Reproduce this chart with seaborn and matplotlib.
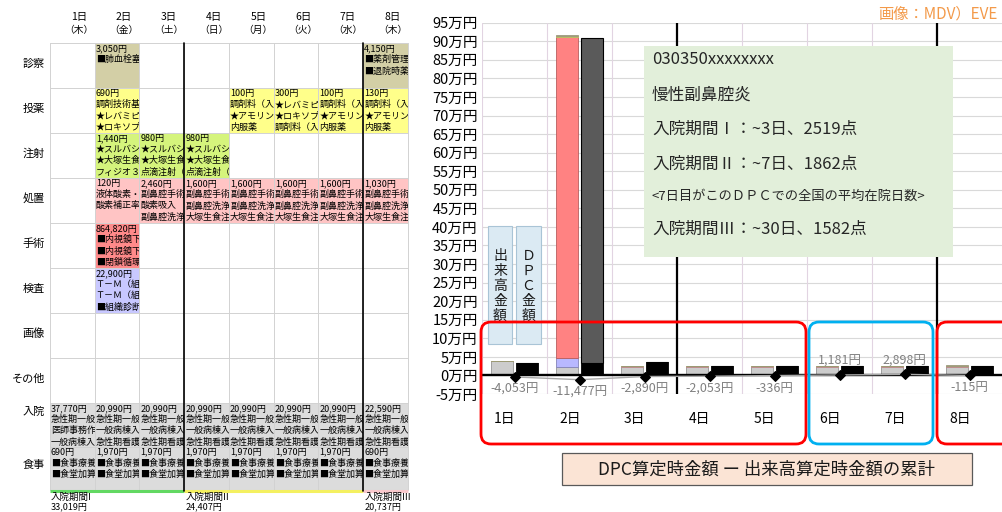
import numpy as np
import pandas as pd
import matplotlib
matplotlib.use("Agg")
import matplotlib.pyplot as plt
import matplotlib.colors as mcolors
from matplotlib.patches import Rectangle, FancyBboxPatch
from matplotlib.transforms import Bbox, TransformedBbox
import seaborn as sns

# ---------------------------------------------------------------- data
days = ["1日", "2日", "3日", "4日", "5日", "6日", "7日", "8日"]
weekdays = ["木", "金", "土", "日", "月", "火", "水", "木"]
row_names = ["診察", "投薬", "注射", "処置", "手術", "検査", "画像", "その他", "入院", "食事"]

# 出来高 amounts (円) per category and day
shinsatsu = [0, 3050, 0, 0, 0, 0, 0, 4150]
toyaku = [0, 690, 0, 0, 100, 300, 100, 130]
chusha = [0, 1440, 980, 980, 0, 0, 0, 0]
shochi = [0, 120, 2460, 1600, 1600, 1600, 1600, 1030]
shujutsu = [0, 864820, 0, 0, 0, 0, 0, 0]
kensa = [0, 22900, 0, 0, 0, 0, 0, 0]
gazo = [0, 0, 0, 0, 0, 0, 0, 0]
sonota = [0, 0, 0, 0, 0, 0, 0, 0]
nyuin = [37770, 20990, 20990, 20990, 20990, 20990, 20990, 22590]
shokuji = [690, 1970, 1970, 1970, 1970, 1970, 1970, 690]

# DPC amounts (円): bundled part and separately billed part
dpc_hokatsu = [34407, 34407, 34987, 26377, 26377, 26377, 26377, 25577]
dpc_dekidaka = [0, 874149, 0, 0, 0, 0, 0, 0]

# cumulative (DPC - 出来高)
cum_diff = [-4053, -11477, -2890, -2053, -336, 1181, 2898, -115]

period_labels = ["入院期間I", "入院期間II", "入院期間III"]
period_amounts = [33019, 24407, 20737]

y_ticks = list(range(-50000, 950001, 50000))

info_lines = ["030350xxxxxxxx", "慢性副鼻腔炎", "入院期間Ⅰ：~3日、2519点",
              "入院期間Ⅱ：~7日、1862点", "<7日目がこのＤＰＣでの全国の平均在院日数>",
              "入院期間Ⅲ：~30日、1582点"]

# item names shown in the billing table cells (per row, per day index)
proc_a = ["副鼻腔手術", "副鼻腔洗浄", "大塚生食注"]
cell_items = {
    "診察": {1: ["■肺血栓塞"], 7: ["■薬剤管理", "■退院時薬"]},
    "投薬": {1: ["調剤技術基", "★レバミピ", "★ロキソプ"],
             4: ["調剤料（入", "★アモリン", "内服薬"],
             5: ["★レバミピ", "★ロキソプ", "調剤料（入"],
             6: ["調剤料（入", "★アモリン", "内服薬"],
             7: ["調剤料（入", "★アモリン", "内服薬"]},
    "注射": {1: ["★スルバシ", "★大塚生食", "フィジオ３"],
             2: ["★スルバシ", "★大塚生食", "点滴注射（"],
             3: ["★スルバシ", "★大塚生食", "点滴注射（"]},
    "処置": {1: ["液体酸素・", "酸素補正率"],
             2: ["副鼻腔手術", "酸素吸入", "副鼻腔洗浄"],
             3: proc_a, 4: proc_a, 5: proc_a, 6: proc_a, 7: proc_a},
    "手術": {1: ["■内視鏡下", "■内視鏡下", "■閉鎖循環"]},
    "検査": {1: ["Ｔ－Ｍ（組", "Ｔ－Ｍ（組", "■組織診断"]},
    "入院": {0: ["急性期一般", "医師事務作", "一般病棟入"],
             **{d: ["急性期一般", "一般病棟入", "急性期看護"] for d in range(1, 8)}},
    "食事": {d: ["■食事療養", "■食堂加算"] for d in range(8)},
}

amounts = {"診察": shinsatsu, "投薬": toyaku, "注射": chusha, "処置": shochi,
           "手術": shujutsu, "検査": kensa, "画像": gazo, "その他": sonota,
           "入院": nyuin, "食事": shokuji}

table_colors = {"診察": "#d3cfa6", "投薬": "#ffff8a", "注射": "#d5f47c",
                "処置": "#ffc4c4", "手術": "#ff8a8a", "検査": "#c8c8ff",
                "画像": "#ffffff", "その他": "#ffffff",
                "入院": "#dcdcdc", "食事": "#dcdcdc"}
bar_colors = dict(table_colors)
bar_colors.update({"手術": "#ff8282", "検査": "#b8b8ff", "入院": "#cccccc",
                   "食事": "#c4c4c4"})
stack_order = ["食事", "入院", "その他", "画像", "検査", "手術", "処置", "注射", "投薬", "診察"]

# ---------------------------------------------------------------- style
sns.set_theme(style="white")
plt.rcParams["font.family"] = ["Noto Sans CJK JP", "DejaVu Sans"]
plt.rcParams["text.color"] = "black"

W, H = 1002, 512
fig = plt.figure(figsize=(W / 100, H / 100), dpi=100)

# ---------------------------------------------------------------- chart
ax_left, ax_right, ax_top, ax_bot = 482, 1002, 22.7, 394
ax = fig.add_axes([ax_left / W, 1 - ax_bot / H, (ax_right - ax_left) / W, (ax_bot - ax_top) / H])
ax.set_xlim(-0.5, 7.5)
ax.set_ylim(-50000, 950000)
for s in ax.spines.values():
    s.set_visible(False)
ax.set_axisbelow(True)
for yv in y_ticks:
    ax.axhline(yv, color="#d9d9d9", lw=0.8, zorder=0)
for k in range(8):
    ax.axvline(k - 0.5, color="#e2d4e2", lw=0.8, zorder=0)
for xb in (2.5, 6.5):
    ax.axvline(xb, color="black", lw=1.6, zorder=1)

x = np.arange(len(days))
bw, off = 0.34, 0.195

bottom = np.zeros(len(days))
for cat in stack_order:
    vals = np.array(amounts[cat], dtype=float)
    if vals.sum() == 0:
        continue
    c = bar_colors[cat]
    edge = tuple(v * 0.72 for v in mcolors.to_rgb(c))
    ax.bar(x - off, vals, width=bw, bottom=bottom, color=c, edgecolor=edge,
           lw=0.6, zorder=3)
    bottom += vals

ax.bar(x + off, dpc_hokatsu, width=bw, color="black", edgecolor="black", lw=0.6, zorder=3)
ax.bar(x + off, dpc_dekidaka, width=bw, bottom=dpc_hokatsu, color="#5a5a5a",
       edgecolor="black", lw=0.8, zorder=3)

ax.axhline(0, color="black", lw=1.7, zorder=4)

line_df = pd.DataFrame({"day": x, "diff": cum_diff})
sns.lineplot(data=line_df, x="day", y="diff", ax=ax, color="#a8a8a8", lw=1.0,
             marker="D", markersize=5.5, markerfacecolor="black",
             markeredgecolor="black", zorder=5)

for xi, v in zip(x, cum_diff):
    if v < 0:
        ax.annotate(f"{v:,}円", (xi, v), xytext=(0, -6), textcoords="offset pixels",
                    ha="center", va="top", fontsize=9, color="#808080", zorder=2)
    else:
        ax.annotate(f"{v:,}円", (xi, v), xytext=(0, 7), textcoords="offset pixels",
                    ha="center", va="bottom", fontsize=9, color="#808080", zorder=2)

ax.set_yticks(y_ticks)
ax.set_yticklabels([f"{v // 10000}万円" for v in y_ticks], fontsize=10.5, color="black")
ax.set_xticks(x - 0.15)
ax.set_xticklabels(days, fontsize=10, color="black")
ax.tick_params(axis="y", length=0, pad=3)
ax.tick_params(axis="x", length=0, pad=13)
ax.set_xlabel("")
ax.set_ylabel("")

# ---------------------------------------------------------------- overlay (pixel coordinates)
ov = fig.add_axes([0, 0, 1, 1])
ov.set_xlim(0, W)
ov.set_ylim(H, 0)
ov.axis("off")
ov.set_zorder(5)

# billing table
col_x0, col_w = 50.0, 44.75
row_top = [43 + 45 * i for i in range(8)] + [403.0, 446.5]
row_bot = row_top[1:] + [490.0]
fs_cell = 6.5
line_h = 11.2

for j, (d, wd) in enumerate(zip(days, weekdays)):
    cx = col_x0 + col_w * (j + 0.5) + 7
    ov.text(cx, 17, d, ha="center", va="center", fontsize=7.5)
    ov.text(cx, 30, f"（{wd}）", ha="center", va="center", fontsize=7)

for r, name in enumerate(row_names):
    y0, y1 = row_top[r], row_bot[r]
    if name == "入院":
        ly = 412
    elif name == "食事":
        ly = 465
    else:
        ly = (y0 + y1) / 2 - 2
    ov.text(45, ly, name, ha="right", va="center", fontsize=8)
    for j in range(8):
        xa = col_x0 + col_w * j
        amt = amounts[name][j]
        if name in ("入院", "食事") or amt:
            ov.add_patch(Rectangle((xa, y0), col_w, y1 - y0,
                                   facecolor=table_colors[name], edgecolor="none", zorder=1))
        if amt:
            lines = [f"{amt:,}円"] + cell_items.get(name, {}).get(j, [])
            clip = TransformedBbox(Bbox.from_extents(xa + 0.5, y0, xa + col_w, y1), ov.transData)
            for li, txt in enumerate(lines):
                t = ov.text(xa + 1, y0 + 5.5 + li * line_h, txt, ha="left", va="center",
                            fontsize=fs_cell, color="black", zorder=3)
                t.set_clip_box(clip)
                t.set_clip_on(True)

# grid of the table
for j in range(9):
    xv = col_x0 + col_w * j
    ov.plot([xv, xv], [43, 490], color="#d2d2d2", lw=0.7, zorder=2)
for yv in row_top:
    ov.plot([col_x0, col_x0 + 8 * col_w], [yv, yv], color="#d2d2d2", lw=0.7, zorder=2)
for j in (3, 7):
    xv = col_x0 + col_w * j
    ov.plot([xv, xv], [43, 491], color="black", lw=1.2, zorder=4)

period_spans = [(0, 3, "#62d862"), (3, 7, "#f4f060"), (7, 8, "#f8c8cc")]
for (a, b, c), lab, amt in zip(period_spans, period_labels, period_amounts):
    xa, xb = col_x0 + col_w * a, col_x0 + col_w * b
    ov.plot([xa, xb], [490.5, 490.5], color=c, lw=2.2, solid_capstyle="butt", zorder=3)
    ov.text(xa + 1, 497.5, lab, ha="left", va="center", fontsize=6.8)
    ov.text(xa + 1, 506.5, f"{amt:,}円", ha="left", va="center", fontsize=6.5)

# series name boxes
for (bx0, bx1), lab in zip([(488, 512), (516, 541)], ["出来高金額", "ＤＰＣ金額"]):
    ov.add_patch(Rectangle((bx0, 226), bx1 - bx0, 118, facecolor="#dbeaf3",
                           edgecolor="#a9c4d6", lw=0.8, zorder=2))
    ov.text((bx0 + bx1) / 2, 286, "\n".join(lab), ha="center", va="center",
            fontsize=10, linespacing=1.1, color="#1a1a1a", zorder=3)

# info box
ov.add_patch(Rectangle((644, 46), 309, 211, facecolor="#e2efda", edgecolor="none", zorder=2))
info_y = [60, 95, 129, 164, 196, 229]
for txt, yv in zip(info_lines, info_y):
    fs = 9.5 if txt.startswith("<") else 12
    ov.text(652, yv, txt, ha="left", va="center", fontsize=fs, color="#262626", zorder=3)

# highlight frames
frames = [((481, 322), 325, 122, "#ff0000"), ((809, 322), 124, 122, "#00b0f0"),
          ((937, 322), 100, 122, "#ff0000")]
for (fx, fy), fw, fh, c in frames:
    ov.add_patch(FancyBboxPatch((fx, fy), fw, fh, boxstyle="round,pad=0,rounding_size=10",
                                facecolor="none", edgecolor=c, lw=2.0, zorder=4))

# caption
ov.add_patch(Rectangle((562, 453), 410, 32, facecolor="#fbe4d5", edgecolor="#595959",
                       lw=0.9, zorder=2))
ov.text(767, 469.5, "DPC算定時金額 ー 出来高算定時金額の累計", ha="center", va="center",
        fontsize=12.5, color="#1a1a1a", zorder=3)

# credit
ov.text(998, 14, "画像：MDV）EVE", ha="right", va="center", fontsize=11, color="#f39a4a")

fig.savefig("out.png", dpi=100)
